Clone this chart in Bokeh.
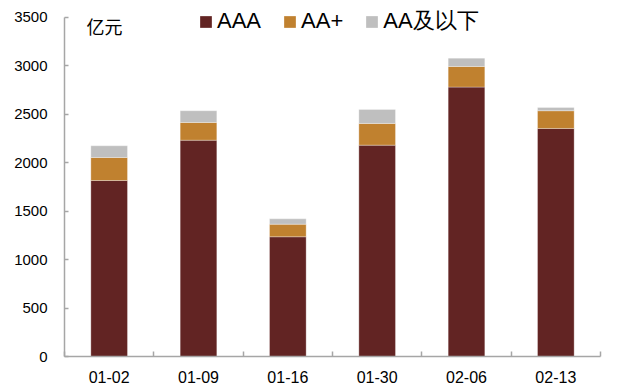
import numpy as np
from bokeh.plotting import figure
from bokeh.models import (Range1d, FixedTicker, CustomJSTickFormatter, Legend, LegendItem,
                          Label, ColumnDataSource)
from bokeh.embed import file_html
from bokeh.resources import INLINE

categories = ["01-02", "01-09", "01-16", "01-30", "02-06", "02-13"]
series_names = ["AAA", "AA+", "AA及以下"]
aaa = [1817, 2233, 1236, 2182, 2781, 2354]
aa_plus = [237, 183, 130, 224, 213, 183]
aa_below = [121, 121, 55, 144, 86, 34]
y_ticks = [0, 500, 1000, 1500, 2000, 2500, 3000, 3500]
unit_label = "亿元"

colors = ["#622423", "#C0812F", "#BFBFBF"]

x_centers = (np.arange(len(categories)) + 0.5).tolist()
source = ColumnDataSource(dict(x=x_centers, AAA=aaa, AAp=aa_plus, AAb=aa_below))

p = figure(width=619, height=389, output_backend="svg", toolbar_location=None,
           x_range=Range1d(0, len(categories)), y_range=Range1d(0, 3675),
           min_border_left=64, min_border_right=19, min_border_top=0, min_border_bottom=33)
p.outline_line_color = None
p.xgrid.visible = False
p.ygrid.visible = False

rs = p.vbar_stack(["AAA", "AAp", "AAb"], x="x", width=0.41, source=source,
                  color=colors, line_color="white", line_width=0.6, line_alpha=0.5)

# axes
axis_color = "#A6A6A6"
p.xaxis.ticker = FixedTicker(ticks=x_centers, minor_ticks=list(range(len(categories) + 1)))
p.xaxis.formatter = CustomJSTickFormatter(args=dict(labels=categories),
                                          code="return labels[Math.floor(tick)];")
p.xaxis.major_tick_in = 0
p.xaxis.major_tick_out = 0
p.xaxis.minor_tick_in = 5
p.xaxis.minor_tick_out = 0
p.xaxis.minor_tick_line_color = axis_color
p.xaxis.minor_tick_line_width = 1.5
p.xaxis.axis_line_color = axis_color
p.xaxis.axis_line_width = 1.5
p.xaxis.major_label_text_font = "Liberation Sans"
p.xaxis.major_label_text_font_size = "16px"
p.xaxis.major_label_text_color = "black"
p.xaxis.major_label_standoff = 14

p.yaxis.ticker = FixedTicker(ticks=y_ticks, minor_ticks=[])
p.yaxis.bounds = (0, 3500)
p.yaxis.major_tick_in = 4
p.yaxis.major_tick_out = 0
p.yaxis.major_tick_line_color = axis_color
p.yaxis.major_tick_line_width = 1.5
p.yaxis.axis_line_color = axis_color
p.yaxis.axis_line_width = 1.5
p.yaxis.major_label_text_font = "Liberation Sans"
p.yaxis.major_label_text_font_size = "15px"
p.yaxis.major_label_text_color = "black"
p.yaxis.major_label_standoff = 17

legend = Legend(items=[LegendItem(label=n, renderers=[r]) for n, r in zip(series_names, rs)],
                location=(134, 320), orientation="horizontal",
                glyph_width=15, glyph_height=15, label_standoff=4, spacing=21,
                padding=0, margin=0, border_line_color=None, background_fill_alpha=0,
                label_text_font="Liberation Sans", label_text_font_size="22px",
                label_text_color="black")
p.add_layout(legend, "center")

p.add_layout(Label(x=22, y=331, x_units="screen", y_units="screen", text=unit_label,
                   text_font="Noto Sans CJK SC", text_font_size="18px",
                   text_baseline="middle", text_color="black"))

open("out.html", "w").write(file_html(p, INLINE))
